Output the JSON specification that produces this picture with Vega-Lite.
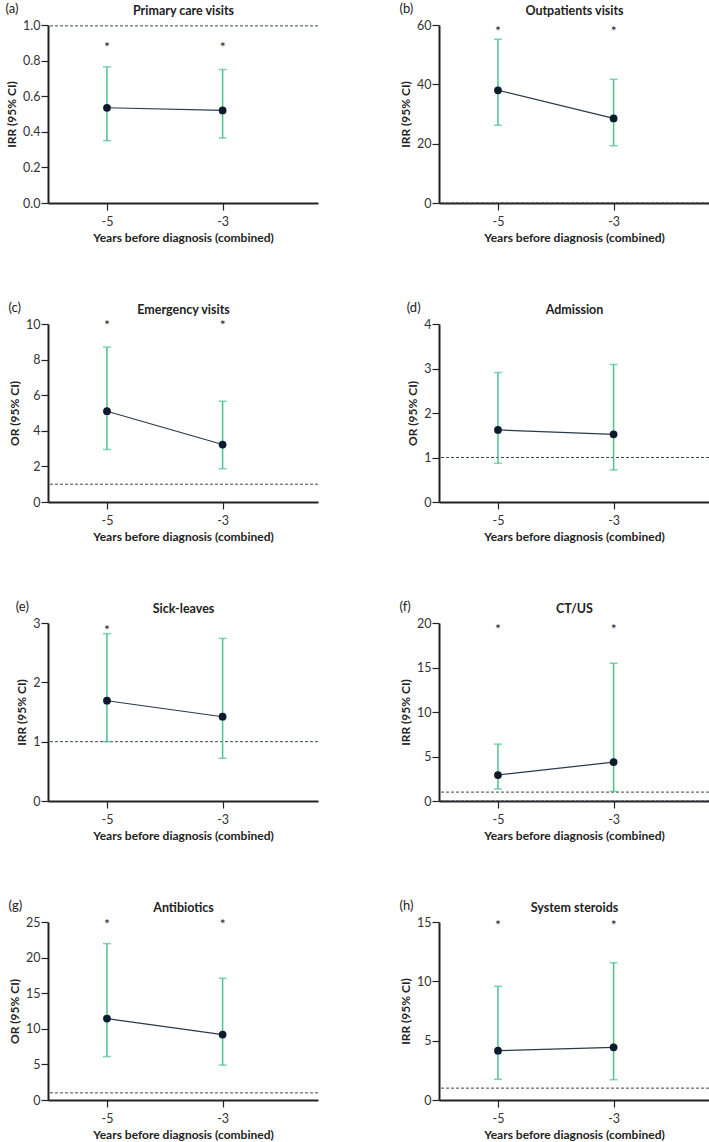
{
 "$schema": "https://vega.github.io/schema/vega-lite/v6.json",
 "padding": {"left": 5, "top": 3, "right": 0, "bottom": 0},
 "background": "white",
 "datasets": {
  "ci": [
   {"panel": "a", "year": -5, "est": 0.535, "lo": 0.35, "hi": 0.765, "star": 0.895},
   {"panel": "a", "year": -3, "est": 0.52, "lo": 0.365, "hi": 0.75, "star": 0.895},
   {"panel": "b", "year": -5, "est": 38.0, "lo": 26.2, "hi": 55.2, "star": 59},
   {"panel": "b", "year": -3, "est": 28.5, "lo": 19.3, "hi": 41.7, "star": 59},
   {"panel": "c", "year": -5, "est": 5.1, "lo": 2.95, "hi": 8.7, "star": 10.1},
   {"panel": "c", "year": -3, "est": 3.23, "lo": 1.87, "hi": 5.66, "star": 10.1},
   {"panel": "d", "year": -5, "est": 1.62, "lo": 0.87, "hi": 2.91, "star": null},
   {"panel": "d", "year": -3, "est": 1.52, "lo": 0.72, "hi": 3.09, "star": null},
   {"panel": "e", "year": -5, "est": 1.69, "lo": 1.0, "hi": 2.82, "star": 2.94},
   {"panel": "e", "year": -3, "est": 1.42, "lo": 0.72, "hi": 2.74, "star": null},
   {"panel": "f", "year": -5, "est": 2.92, "lo": 1.35, "hi": 6.39, "star": 19.7},
   {"panel": "f", "year": -3, "est": 4.37, "lo": 1.08, "hi": 15.48, "star": 19.7},
   {"panel": "g", "year": -5, "est": 11.43, "lo": 6.1, "hi": 21.97, "star": 25.2},
   {"panel": "g", "year": -3, "est": 9.19, "lo": 4.9, "hi": 17.1, "star": 25.2},
   {"panel": "h", "year": -5, "est": 4.16, "lo": 1.74, "hi": 9.58, "star": 15},
   {"panel": "h", "year": -3, "est": 4.44, "lo": 1.71, "hi": 11.57, "star": 15}
  ],
  "refs": [
   {"panel": "a", "ref": 0.995},
   {"panel": "b", "ref": 0},
   {"panel": "c", "ref": 1},
   {"panel": "d", "ref": 1},
   {"panel": "e", "ref": 1},
   {"panel": "f", "ref": 1},
   {"panel": "f", "ref": 0},
   {"panel": "g", "ref": 1},
   {"panel": "h", "ref": 1}
  ]
 },
 "columns": 2,
 "bounds": "flush",
 "spacing": {"row": 121, "column": 121},
 "concat": [
  {
   "title": {"text": "(a)"},
   "width": 270, "height": 178,
   "data": {"name": "ci"},
   "resolve": {"axis": {"x": "independent"}},
   "layer": [
    {"data": {"name": "refs"}, "transform": [{"filter": "datum.panel==='a'"}], "mark": {"type": "rule", "strokeDash": [3, 2], "color": "#3a4755", "strokeWidth": 1}, "encoding": {"y": {"field": "ref", "type": "quantitative", "scale": {"domain": [0, 1], "nice": false}, "axis": {"values": [0, 0.2, 0.4, 0.6, 0.8, 1], "format": ".1f"}, "title": "IRR (95% CI)"}}},
    {"transform": [{"filter": "datum.panel==='a'"}], "mark": {"type": "rule", "color": "#4cc38a", "strokeWidth": 1.5}, "encoding": {"x": {"field": "year", "type": "quantitative", "scale": {"domain": [-6.02, -1.35], "nice": false, "zero": false}, "axis": {"orient": "bottom", "values": [-5, -3], "labelExpr": "'' + datum.value"}, "title": "Years before diagnosis (combined)"}, "y": {"field": "lo", "type": "quantitative", "scale": {"domain": [0, 1], "nice": false}, "axis": {"values": [0, 0.2, 0.4, 0.6, 0.8, 1], "format": ".1f"}, "title": "IRR (95% CI)"}, "y2": {"field": "hi"}}},
    {"transform": [{"filter": "datum.panel==='a'"}], "mark": {"type": "tick", "orient": "horizontal", "color": "#4cc38a", "size": 8, "thickness": 1.5}, "encoding": {"x": {"field": "year", "type": "quantitative", "axis": null}, "y": {"field": "lo", "type": "quantitative"}}},
    {"transform": [{"filter": "datum.panel==='a'"}], "mark": {"type": "tick", "orient": "horizontal", "color": "#4cc38a", "size": 8, "thickness": 1.5}, "encoding": {"x": {"field": "year", "type": "quantitative", "axis": null}, "y": {"field": "hi", "type": "quantitative"}}},
    {"transform": [{"filter": "datum.panel==='a'"}], "mark": {"type": "line", "color": "#2b3a4a", "strokeWidth": 1.2}, "encoding": {"x": {"field": "year", "type": "quantitative", "axis": null}, "y": {"field": "est", "type": "quantitative"}}},
    {"transform": [{"filter": "datum.panel==='a'"}], "mark": {"type": "point", "filled": true, "size": 60, "color": "#0b1a2c", "opacity": 1}, "encoding": {"x": {"field": "year", "type": "quantitative", "axis": {"orient": "top"}, "title": "Primary care visits"}, "y": {"field": "est", "type": "quantitative"}}},
    {"transform": [{"filter": "datum.panel==='a' && datum.star != null"}], "mark": {"type": "text", "text": "*", "fontSize": 14, "color": "#222", "baseline": "middle", "dy": 4}, "encoding": {"x": {"field": "year", "type": "quantitative", "axis": null}, "y": {"field": "star", "type": "quantitative"}}}
   ]
  },
  {
   "title": {"text": "(b)"},
   "width": 270, "height": 178,
   "data": {"name": "ci"},
   "resolve": {"axis": {"x": "independent"}},
   "layer": [
    {"data": {"name": "refs"}, "transform": [{"filter": "datum.panel==='b'"}], "mark": {"type": "rule", "strokeDash": [3, 2], "color": "#3a4755", "strokeWidth": 1}, "encoding": {"y": {"field": "ref", "type": "quantitative", "scale": {"domain": [0, 60], "nice": false}, "axis": {"values": [0, 20, 40, 60], "format": "d"}, "title": "IRR (95% CI)"}}},
    {"transform": [{"filter": "datum.panel==='b'"}], "mark": {"type": "rule", "color": "#4cc38a", "strokeWidth": 1.5}, "encoding": {"x": {"field": "year", "type": "quantitative", "scale": {"domain": [-6.02, -1.35], "nice": false, "zero": false}, "axis": {"orient": "bottom", "values": [-5, -3], "labelExpr": "'' + datum.value"}, "title": "Years before diagnosis (combined)"}, "y": {"field": "lo", "type": "quantitative", "scale": {"domain": [0, 60], "nice": false}, "axis": {"values": [0, 20, 40, 60], "format": "d"}, "title": "IRR (95% CI)"}, "y2": {"field": "hi"}}},
    {"transform": [{"filter": "datum.panel==='b'"}], "mark": {"type": "tick", "orient": "horizontal", "color": "#4cc38a", "size": 8, "thickness": 1.5}, "encoding": {"x": {"field": "year", "type": "quantitative", "axis": null}, "y": {"field": "lo", "type": "quantitative"}}},
    {"transform": [{"filter": "datum.panel==='b'"}], "mark": {"type": "tick", "orient": "horizontal", "color": "#4cc38a", "size": 8, "thickness": 1.5}, "encoding": {"x": {"field": "year", "type": "quantitative", "axis": null}, "y": {"field": "hi", "type": "quantitative"}}},
    {"transform": [{"filter": "datum.panel==='b'"}], "mark": {"type": "line", "color": "#2b3a4a", "strokeWidth": 1.2}, "encoding": {"x": {"field": "year", "type": "quantitative", "axis": null}, "y": {"field": "est", "type": "quantitative"}}},
    {"transform": [{"filter": "datum.panel==='b'"}], "mark": {"type": "point", "filled": true, "size": 60, "color": "#0b1a2c", "opacity": 1}, "encoding": {"x": {"field": "year", "type": "quantitative", "axis": {"orient": "top"}, "title": "Outpatients visits"}, "y": {"field": "est", "type": "quantitative"}}},
    {"transform": [{"filter": "datum.panel==='b' && datum.star != null"}], "mark": {"type": "text", "text": "*", "fontSize": 14, "color": "#222", "baseline": "middle", "dy": 4}, "encoding": {"x": {"field": "year", "type": "quantitative", "axis": null}, "y": {"field": "star", "type": "quantitative"}}}
   ]
  },
  {
   "title": {"text": "(c)"},
   "width": 270, "height": 178,
   "data": {"name": "ci"},
   "resolve": {"axis": {"x": "independent"}},
   "layer": [
    {"data": {"name": "refs"}, "transform": [{"filter": "datum.panel==='c'"}], "mark": {"type": "rule", "strokeDash": [3, 2], "color": "#3a4755", "strokeWidth": 1}, "encoding": {"y": {"field": "ref", "type": "quantitative", "scale": {"domain": [0, 10], "nice": false}, "axis": {"values": [0, 2, 4, 6, 8, 10], "format": "d"}, "title": "OR (95% CI)"}}},
    {"transform": [{"filter": "datum.panel==='c'"}], "mark": {"type": "rule", "color": "#4cc38a", "strokeWidth": 1.5}, "encoding": {"x": {"field": "year", "type": "quantitative", "scale": {"domain": [-6.02, -1.35], "nice": false, "zero": false}, "axis": {"orient": "bottom", "values": [-5, -3], "labelExpr": "'' + datum.value"}, "title": "Years before diagnosis (combined)"}, "y": {"field": "lo", "type": "quantitative", "scale": {"domain": [0, 10], "nice": false}, "axis": {"values": [0, 2, 4, 6, 8, 10], "format": "d"}, "title": "OR (95% CI)"}, "y2": {"field": "hi"}}},
    {"transform": [{"filter": "datum.panel==='c'"}], "mark": {"type": "tick", "orient": "horizontal", "color": "#4cc38a", "size": 8, "thickness": 1.5}, "encoding": {"x": {"field": "year", "type": "quantitative", "axis": null}, "y": {"field": "lo", "type": "quantitative"}}},
    {"transform": [{"filter": "datum.panel==='c'"}], "mark": {"type": "tick", "orient": "horizontal", "color": "#4cc38a", "size": 8, "thickness": 1.5}, "encoding": {"x": {"field": "year", "type": "quantitative", "axis": null}, "y": {"field": "hi", "type": "quantitative"}}},
    {"transform": [{"filter": "datum.panel==='c'"}], "mark": {"type": "line", "color": "#2b3a4a", "strokeWidth": 1.2}, "encoding": {"x": {"field": "year", "type": "quantitative", "axis": null}, "y": {"field": "est", "type": "quantitative"}}},
    {"transform": [{"filter": "datum.panel==='c'"}], "mark": {"type": "point", "filled": true, "size": 60, "color": "#0b1a2c", "opacity": 1}, "encoding": {"x": {"field": "year", "type": "quantitative", "axis": {"orient": "top"}, "title": "Emergency visits"}, "y": {"field": "est", "type": "quantitative"}}},
    {"transform": [{"filter": "datum.panel==='c' && datum.star != null"}], "mark": {"type": "text", "text": "*", "fontSize": 14, "color": "#222", "baseline": "middle", "dy": 4}, "encoding": {"x": {"field": "year", "type": "quantitative", "axis": null}, "y": {"field": "star", "type": "quantitative"}}}
   ]
  },
  {
   "title": {"text": "(d)"},
   "width": 270, "height": 178,
   "data": {"name": "ci"},
   "resolve": {"axis": {"x": "independent"}},
   "layer": [
    {"data": {"name": "refs"}, "transform": [{"filter": "datum.panel==='d'"}], "mark": {"type": "rule", "strokeDash": [3, 2], "color": "#3a4755", "strokeWidth": 1}, "encoding": {"y": {"field": "ref", "type": "quantitative", "scale": {"domain": [0, 4], "nice": false}, "axis": {"values": [0, 1, 2, 3, 4], "format": "d"}, "title": "OR (95% CI)"}}},
    {"transform": [{"filter": "datum.panel==='d'"}], "mark": {"type": "rule", "color": "#4cc38a", "strokeWidth": 1.5}, "encoding": {"x": {"field": "year", "type": "quantitative", "scale": {"domain": [-6.02, -1.35], "nice": false, "zero": false}, "axis": {"orient": "bottom", "values": [-5, -3], "labelExpr": "'' + datum.value"}, "title": "Years before diagnosis (combined)"}, "y": {"field": "lo", "type": "quantitative", "scale": {"domain": [0, 4], "nice": false}, "axis": {"values": [0, 1, 2, 3, 4], "format": "d"}, "title": "OR (95% CI)"}, "y2": {"field": "hi"}}},
    {"transform": [{"filter": "datum.panel==='d'"}], "mark": {"type": "tick", "orient": "horizontal", "color": "#4cc38a", "size": 8, "thickness": 1.5}, "encoding": {"x": {"field": "year", "type": "quantitative", "axis": null}, "y": {"field": "lo", "type": "quantitative"}}},
    {"transform": [{"filter": "datum.panel==='d'"}], "mark": {"type": "tick", "orient": "horizontal", "color": "#4cc38a", "size": 8, "thickness": 1.5}, "encoding": {"x": {"field": "year", "type": "quantitative", "axis": null}, "y": {"field": "hi", "type": "quantitative"}}},
    {"transform": [{"filter": "datum.panel==='d'"}], "mark": {"type": "line", "color": "#2b3a4a", "strokeWidth": 1.2}, "encoding": {"x": {"field": "year", "type": "quantitative", "axis": null}, "y": {"field": "est", "type": "quantitative"}}},
    {"transform": [{"filter": "datum.panel==='d'"}], "mark": {"type": "point", "filled": true, "size": 60, "color": "#0b1a2c", "opacity": 1}, "encoding": {"x": {"field": "year", "type": "quantitative", "axis": {"orient": "top"}, "title": "Admission"}, "y": {"field": "est", "type": "quantitative"}}}
   ]
  },
  {
   "title": {"text": "(e)"},
   "width": 270, "height": 178,
   "data": {"name": "ci"},
   "resolve": {"axis": {"x": "independent"}},
   "layer": [
    {"data": {"name": "refs"}, "transform": [{"filter": "datum.panel==='e'"}], "mark": {"type": "rule", "strokeDash": [3, 2], "color": "#3a4755", "strokeWidth": 1}, "encoding": {"y": {"field": "ref", "type": "quantitative", "scale": {"domain": [0, 3], "nice": false}, "axis": {"values": [0, 1, 2, 3], "format": "d"}, "title": "IRR (95% CI)"}}},
    {"transform": [{"filter": "datum.panel==='e'"}], "mark": {"type": "rule", "color": "#4cc38a", "strokeWidth": 1.5}, "encoding": {"x": {"field": "year", "type": "quantitative", "scale": {"domain": [-6.02, -1.35], "nice": false, "zero": false}, "axis": {"orient": "bottom", "values": [-5, -3], "labelExpr": "'' + datum.value"}, "title": "Years before diagnosis (combined)"}, "y": {"field": "lo", "type": "quantitative", "scale": {"domain": [0, 3], "nice": false}, "axis": {"values": [0, 1, 2, 3], "format": "d"}, "title": "IRR (95% CI)"}, "y2": {"field": "hi"}}},
    {"transform": [{"filter": "datum.panel==='e'"}], "mark": {"type": "tick", "orient": "horizontal", "color": "#4cc38a", "size": 8, "thickness": 1.5}, "encoding": {"x": {"field": "year", "type": "quantitative", "axis": null}, "y": {"field": "lo", "type": "quantitative"}}},
    {"transform": [{"filter": "datum.panel==='e'"}], "mark": {"type": "tick", "orient": "horizontal", "color": "#4cc38a", "size": 8, "thickness": 1.5}, "encoding": {"x": {"field": "year", "type": "quantitative", "axis": null}, "y": {"field": "hi", "type": "quantitative"}}},
    {"transform": [{"filter": "datum.panel==='e'"}], "mark": {"type": "line", "color": "#2b3a4a", "strokeWidth": 1.2}, "encoding": {"x": {"field": "year", "type": "quantitative", "axis": null}, "y": {"field": "est", "type": "quantitative"}}},
    {"transform": [{"filter": "datum.panel==='e'"}], "mark": {"type": "point", "filled": true, "size": 60, "color": "#0b1a2c", "opacity": 1}, "encoding": {"x": {"field": "year", "type": "quantitative", "axis": {"orient": "top"}, "title": "Sick-leaves"}, "y": {"field": "est", "type": "quantitative"}}},
    {"transform": [{"filter": "datum.panel==='e' && datum.star != null"}], "mark": {"type": "text", "text": "*", "fontSize": 14, "color": "#222", "baseline": "middle", "dy": 4}, "encoding": {"x": {"field": "year", "type": "quantitative", "axis": null}, "y": {"field": "star", "type": "quantitative"}}}
   ]
  },
  {
   "title": {"text": "(f)"},
   "width": 270, "height": 178,
   "data": {"name": "ci"},
   "resolve": {"axis": {"x": "independent"}},
   "layer": [
    {"data": {"name": "refs"}, "transform": [{"filter": "datum.panel==='f'"}], "mark": {"type": "rule", "strokeDash": [3, 2], "color": "#3a4755", "strokeWidth": 1}, "encoding": {"y": {"field": "ref", "type": "quantitative", "scale": {"domain": [0, 20], "nice": false}, "axis": {"values": [0, 5, 10, 15, 20], "format": "d"}, "title": "IRR (95% CI)"}}},
    {"transform": [{"filter": "datum.panel==='f'"}], "mark": {"type": "rule", "color": "#4cc38a", "strokeWidth": 1.5}, "encoding": {"x": {"field": "year", "type": "quantitative", "scale": {"domain": [-6.02, -1.35], "nice": false, "zero": false}, "axis": {"orient": "bottom", "values": [-5, -3], "labelExpr": "'' + datum.value"}, "title": "Years before diagnosis (combined)"}, "y": {"field": "lo", "type": "quantitative", "scale": {"domain": [0, 20], "nice": false}, "axis": {"values": [0, 5, 10, 15, 20], "format": "d"}, "title": "IRR (95% CI)"}, "y2": {"field": "hi"}}},
    {"transform": [{"filter": "datum.panel==='f'"}], "mark": {"type": "tick", "orient": "horizontal", "color": "#4cc38a", "size": 8, "thickness": 1.5}, "encoding": {"x": {"field": "year", "type": "quantitative", "axis": null}, "y": {"field": "lo", "type": "quantitative"}}},
    {"transform": [{"filter": "datum.panel==='f'"}], "mark": {"type": "tick", "orient": "horizontal", "color": "#4cc38a", "size": 8, "thickness": 1.5}, "encoding": {"x": {"field": "year", "type": "quantitative", "axis": null}, "y": {"field": "hi", "type": "quantitative"}}},
    {"transform": [{"filter": "datum.panel==='f'"}], "mark": {"type": "line", "color": "#2b3a4a", "strokeWidth": 1.2}, "encoding": {"x": {"field": "year", "type": "quantitative", "axis": null}, "y": {"field": "est", "type": "quantitative"}}},
    {"transform": [{"filter": "datum.panel==='f'"}], "mark": {"type": "point", "filled": true, "size": 60, "color": "#0b1a2c", "opacity": 1}, "encoding": {"x": {"field": "year", "type": "quantitative", "axis": {"orient": "top"}, "title": "CT/US"}, "y": {"field": "est", "type": "quantitative"}}},
    {"transform": [{"filter": "datum.panel==='f' && datum.star != null"}], "mark": {"type": "text", "text": "*", "fontSize": 14, "color": "#222", "baseline": "middle", "dy": 4}, "encoding": {"x": {"field": "year", "type": "quantitative", "axis": null}, "y": {"field": "star", "type": "quantitative"}}}
   ]
  },
  {
   "title": {"text": "(g)"},
   "width": 270, "height": 178,
   "data": {"name": "ci"},
   "resolve": {"axis": {"x": "independent"}},
   "layer": [
    {"data": {"name": "refs"}, "transform": [{"filter": "datum.panel==='g'"}], "mark": {"type": "rule", "strokeDash": [3, 2], "color": "#3a4755", "strokeWidth": 1}, "encoding": {"y": {"field": "ref", "type": "quantitative", "scale": {"domain": [0, 25], "nice": false}, "axis": {"values": [0, 5, 10, 15, 20, 25], "format": "d"}, "title": "OR (95% CI)"}}},
    {"transform": [{"filter": "datum.panel==='g'"}], "mark": {"type": "rule", "color": "#4cc38a", "strokeWidth": 1.5}, "encoding": {"x": {"field": "year", "type": "quantitative", "scale": {"domain": [-6.02, -1.35], "nice": false, "zero": false}, "axis": {"orient": "bottom", "values": [-5, -3], "labelExpr": "'' + datum.value"}, "title": "Years before diagnosis (combined)"}, "y": {"field": "lo", "type": "quantitative", "scale": {"domain": [0, 25], "nice": false}, "axis": {"values": [0, 5, 10, 15, 20, 25], "format": "d"}, "title": "OR (95% CI)"}, "y2": {"field": "hi"}}},
    {"transform": [{"filter": "datum.panel==='g'"}], "mark": {"type": "tick", "orient": "horizontal", "color": "#4cc38a", "size": 8, "thickness": 1.5}, "encoding": {"x": {"field": "year", "type": "quantitative", "axis": null}, "y": {"field": "lo", "type": "quantitative"}}},
    {"transform": [{"filter": "datum.panel==='g'"}], "mark": {"type": "tick", "orient": "horizontal", "color": "#4cc38a", "size": 8, "thickness": 1.5}, "encoding": {"x": {"field": "year", "type": "quantitative", "axis": null}, "y": {"field": "hi", "type": "quantitative"}}},
    {"transform": [{"filter": "datum.panel==='g'"}], "mark": {"type": "line", "color": "#2b3a4a", "strokeWidth": 1.2}, "encoding": {"x": {"field": "year", "type": "quantitative", "axis": null}, "y": {"field": "est", "type": "quantitative"}}},
    {"transform": [{"filter": "datum.panel==='g'"}], "mark": {"type": "point", "filled": true, "size": 60, "color": "#0b1a2c", "opacity": 1}, "encoding": {"x": {"field": "year", "type": "quantitative", "axis": {"orient": "top"}, "title": "Antibiotics"}, "y": {"field": "est", "type": "quantitative"}}},
    {"transform": [{"filter": "datum.panel==='g' && datum.star != null"}], "mark": {"type": "text", "text": "*", "fontSize": 14, "color": "#222", "baseline": "middle", "dy": 4}, "encoding": {"x": {"field": "year", "type": "quantitative", "axis": null}, "y": {"field": "star", "type": "quantitative"}}}
   ]
  },
  {
   "title": {"text": "(h)"},
   "width": 270, "height": 178,
   "data": {"name": "ci"},
   "resolve": {"axis": {"x": "independent"}},
   "layer": [
    {"data": {"name": "refs"}, "transform": [{"filter": "datum.panel==='h'"}], "mark": {"type": "rule", "strokeDash": [3, 2], "color": "#3a4755", "strokeWidth": 1}, "encoding": {"y": {"field": "ref", "type": "quantitative", "scale": {"domain": [0, 15], "nice": false}, "axis": {"values": [0, 5, 10, 15], "format": "d"}, "title": "IRR (95% CI)"}}},
    {"transform": [{"filter": "datum.panel==='h'"}], "mark": {"type": "rule", "color": "#4cc38a", "strokeWidth": 1.5}, "encoding": {"x": {"field": "year", "type": "quantitative", "scale": {"domain": [-6.02, -1.35], "nice": false, "zero": false}, "axis": {"orient": "bottom", "values": [-5, -3], "labelExpr": "'' + datum.value"}, "title": "Years before diagnosis (combined)"}, "y": {"field": "lo", "type": "quantitative", "scale": {"domain": [0, 15], "nice": false}, "axis": {"values": [0, 5, 10, 15], "format": "d"}, "title": "IRR (95% CI)"}, "y2": {"field": "hi"}}},
    {"transform": [{"filter": "datum.panel==='h'"}], "mark": {"type": "tick", "orient": "horizontal", "color": "#4cc38a", "size": 8, "thickness": 1.5}, "encoding": {"x": {"field": "year", "type": "quantitative", "axis": null}, "y": {"field": "lo", "type": "quantitative"}}},
    {"transform": [{"filter": "datum.panel==='h'"}], "mark": {"type": "tick", "orient": "horizontal", "color": "#4cc38a", "size": 8, "thickness": 1.5}, "encoding": {"x": {"field": "year", "type": "quantitative", "axis": null}, "y": {"field": "hi", "type": "quantitative"}}},
    {"transform": [{"filter": "datum.panel==='h'"}], "mark": {"type": "line", "color": "#2b3a4a", "strokeWidth": 1.2}, "encoding": {"x": {"field": "year", "type": "quantitative", "axis": null}, "y": {"field": "est", "type": "quantitative"}}},
    {"transform": [{"filter": "datum.panel==='h'"}], "mark": {"type": "point", "filled": true, "size": 60, "color": "#0b1a2c", "opacity": 1}, "encoding": {"x": {"field": "year", "type": "quantitative", "axis": {"orient": "top"}, "title": "System steroids"}, "y": {"field": "est", "type": "quantitative"}}},
    {"transform": [{"filter": "datum.panel==='h' && datum.star != null"}], "mark": {"type": "text", "text": "*", "fontSize": 14, "color": "#222", "baseline": "middle", "dy": 4}, "encoding": {"x": {"field": "year", "type": "quantitative", "axis": null}, "y": {"field": "star", "type": "quantitative"}}}
   ]
  }
 ],
 "config": {
  "view": {"stroke": null},
  "font": "Lato",
  "axis": {"grid": false, "tickCount": 20, "domainColor": "#222", "domainWidth": 2, "tickColor": "#222", "tickWidth": 1.2, "tickSize": 7, "labelFont": "Lato", "labelFontSize": 12.5, "labelColor": "#333", "labelOverlap": false, "labelFlush": false, "titleFont": "Lato", "titleFontSize": 12, "titleFontWeight": "bold", "titleColor": "#222"},
  "axisLeft": {"labelPadding": 1, "titlePadding": 4},
  "axisBottom": {"labelPadding": 5, "titlePadding": 5},
  "axisTop": {"labels": false, "ticks": false, "domain": false, "titleFontSize": 12.5, "titlePadding": 8},
  "title": {"fontSize": 13, "fontWeight": "normal", "anchor": "start", "frame": "bounds", "color": "#222", "font": "Lato", "offset": -12}
 }
}
